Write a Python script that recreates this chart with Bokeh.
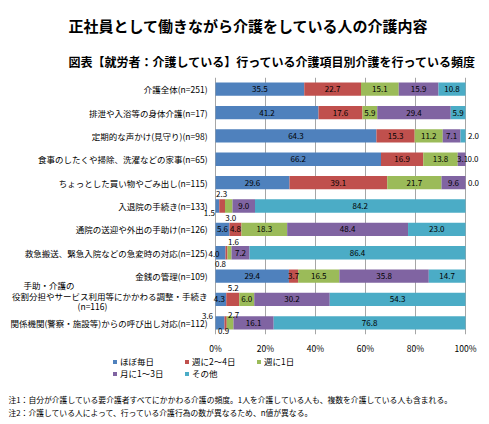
from bokeh.plotting import figure
from bokeh.layouts import column
from bokeh.models import (ColumnDataSource, Range1d, Label, LabelSet, FixedTicker,
                          Legend, LegendItem)
from bokeh.core.properties import value
from bokeh.embed import file_html
from bokeh.resources import INLINE

# ---------------- data ----------------
title_text = "正社員として働きながら介護をしている人の介護内容"
subtitle_text = "図表【就労者：介護している】行っている介護項目別介護を行っている頻度"

categories = [
    "介護全体(n=251)",
    "排泄や入浴等の身体介護(n=17)",
    "定期的な声かけ(見守り)(n=98)",
    "食事のしたくや掃除、洗濯などの家事(n=65)",
    "ちょっとした買い物やごみ出し(n=115)",
    "入退院の手続き(n=133)",
    "通院の送迎や外出の手助け(n=126)",
    "救急搬送、緊急入院などの急変時の対応(n=125)",
    "金銭の管理(n=109)",
    "手助・介護の\n役割分担やサービス利用等にかかわる調整・手続き\n(n=116)",
    "関係機関(警察・施設等)からの呼び出し対応(n=112)",
]
series_names = ["ほぼ毎日", "週に2～4日", "週に1日", "月に1～3日", "その他"]
daily = [35.5, 41.2, 64.3, 66.2, 29.6, 1.5, 5.6, 4.0, 29.4, 4.3, 3.6]
w2_4 = [22.7, 17.6, 15.3, 16.9, 39.1, 2.3, 4.8, 0.8, 3.7, 5.2, 0.9]
w1 = [15.1, 5.9, 11.2, 13.8, 21.7, 3.0, 18.3, 1.6, 16.5, 6.0, 2.7]
m1_3 = [15.9, 29.4, 7.1, 3.1, 9.6, 9.0, 48.4, 7.2, 35.8, 30.2, 16.1]
other = [10.8, 5.9, 2.0, 0.0, 0.0, 84.2, 23.0, 86.4, 14.7, 54.3, 76.8]
x_ticks = [0, 20, 40, 60, 80, 100]
x_tick_labels = ["0%", "20%", "40%", "60%", "80%", "100%"]
notes = [
    "注1：自分が介護している要介護者すべてにかかわる介護の頻度。1人を介護している人も、複数を介護している人も含まれる。",
    "注2：介護している人によって、行っている介護行為の数が異なるため、n値が異なる。",
]

# ---------------- layout / style ----------------
colors = ["#4F81BD", "#C0504D", "#9BBB59", "#8064A2", "#4BACC6"]
FONT = "Noto Sans CJK JP"
W, H = 489, 424
X0, PXPCT = 215.0, 2.5          # page x of 0 %, px per %
TOP_H = 77                      # title strip (page 0..77)
MAIN_FRAME_H = 260              # bar area (page 77..337)
AXIS_H = 19                     # tick labels (page 337..356)
BOT_H = H - TOP_H - MAIN_FRAME_H - AXIS_H

x_range = Range1d(-X0 / PXPCT, (W - X0) / PXPCT)

def px_x(page_x):
    return (page_x - X0) / PXPCT

def blank(fig):
    fig.outline_line_color = None
    fig.grid.visible = False
    fig.background_fill_color = "white"
    fig.border_fill_color = "white"
    return fig

n = len(categories)
series = [daily, w2_4, w1, m1_3, other]
ys = [n - 1 - i for i in range(n)]
totals = [sum(s[i] for s in series) for i in range(n)]
norm = [[s[i] / totals[i] * 100.0 for i in range(n)] for s in series]

# ---------- title strip ----------
p_top = blank(figure(width=W, height=TOP_H, output_backend="svg", toolbar_location=None,
                     x_range=x_range, y_range=Range1d(TOP_H, 0),
                     x_axis_location=None, y_axis_location=None,
                     min_border=0, min_border_left=0, min_border_right=0,
                     min_border_top=0, min_border_bottom=0))
p_top.add_layout(Label(x=px_x(68), y=25, text=title_text, text_align="left",
                       text_baseline="middle", text_font=FONT, text_font_size="15px",
                       text_font_style="bold", text_color="#000000"))
p_top.add_layout(Label(x=px_x(68), y=61, text=subtitle_text, text_align="left",
                       text_baseline="middle", text_font=FONT, text_font_size="12px",
                       text_font_style="bold", text_color="#000000"))

# ---------- main chart ----------
src = ColumnDataSource(dict(y=ys, **{name: norm[k] for k, name in enumerate(series_names)}))
p = figure(width=W, height=MAIN_FRAME_H + AXIS_H, output_backend="svg", toolbar_location=None,
           x_range=x_range, y_range=Range1d(-0.5, n - 0.5),
           y_axis_location=None,
           min_border=0, min_border_left=0, min_border_right=0,
           min_border_top=0, min_border_bottom=AXIS_H)
p.outline_line_color = None
p.background_fill_color = "white"
p.border_fill_color = "white"

p.hbar_stack(series_names, y="y", height=0.57, source=src,
             fill_color=colors, line_color=None)

p.ygrid.visible = False
p.xgrid.ticker = FixedTicker(ticks=x_ticks)
p.xgrid.grid_line_color = "#A6A6A6"
p.xgrid.grid_line_width = 1
p.xgrid.level = "underlay"
ax = p.xaxis[0]
ax.ticker = FixedTicker(ticks=x_ticks)
ax.major_label_overrides = {t: l for t, l in zip(x_ticks, x_tick_labels)}
ax.axis_line_color = None
ax.major_tick_line_color = None
ax.minor_tick_line_color = None
ax.major_tick_out = 0
ax.major_tick_in = 0
ax.major_label_standoff = 7
ax.major_label_text_font = FONT
ax.major_label_text_font_size = "8.5px"
ax.major_label_text_color = "#000000"

# data labels (offsets in px: right / down)
offsets = {
    (2, 4): (10.5, 0), (3, 3): (1, 0), (3, 4): (7.5, 0), (4, 4): (8, 0),
    (5, 0): (-8, 6.5), (5, 1): (-0.5, -12), (5, 2): (2, 11.5),
    (7, 0): (-6.5, 1), (7, 1): (-6, 11), (7, 2): (4, -10.5),
    (9, 0): (-1.5, 0), (9, 1): (0.5, -11),
    (10, 0): (-12.5, -6.5), (10, 1): (-2, 8.5), (10, 2): (3.5, -7.5),
}
lx, ly, lt, lxo, lyo = [], [], [], [], []
for i in range(n):
    cum = 0.0
    for k, s in enumerate(series):
        w = norm[k][i]
        lx.append(cum + w / 2)
        ly.append(ys[i])
        lt.append(f"{s[i]:.1f}")
        dx, dy = offsets.get((i, k), (0, 0))
        lxo.append(dx)
        lyo.append(-dy)
        cum += w
lab_src = ColumnDataSource(dict(x=lx, y=ly, t=lt, xo=lxo, yo=lyo))
p.add_layout(LabelSet(x="x", y="y", text="t", source=lab_src, x_offset="xo", y_offset="yo",
                      text_align="center", text_baseline="middle",
                      text_font=value(FONT), text_font_size="8px", text_color="#000000"))

# category labels
for i, c in enumerate(categories):
    if "\n" in c:
        l0, l1, l2 = c.split("\n")
        for txt, xx, yo, al in [(l0, 23, 14.5, "left"), (l1, 207, 3.5, "right"), (l2, 92, -6.5, "center")]:
            p.add_layout(Label(x=px_x(xx), y=ys[i], y_offset=yo, text=txt, text_align=al,
                               text_baseline="middle", text_font=FONT, text_font_size="8.5px",
                               text_color="#000000"))
    else:
        p.add_layout(Label(x=px_x(207), y=ys[i], text=c, text_align="right",
                           text_baseline="middle", text_font=FONT, text_font_size="8.5px",
                           text_color="#000000"))

# ---------- legend + notes strip ----------
bot_top = TOP_H + MAIN_FRAME_H + AXIS_H
p_bot = blank(figure(width=W, height=BOT_H, output_backend="svg", toolbar_location=None,
                     x_range=x_range, y_range=Range1d(H, bot_top),
                     x_axis_location=None, y_axis_location=None,
                     min_border=0, min_border_left=0, min_border_right=0,
                     min_border_top=0, min_border_bottom=0))
# legend proxies: same series, not drawn (visible=False), only used for legend swatches
leg_r = p_bot.hbar_stack(series_names, y="y", height=0.57, source=src,
                         fill_color=colors, line_color=None, visible=False)
legend = Legend(items=[LegendItem(label=nm, renderers=[r]) for nm, r in zip(series_names, leg_r)],
                orientation="horizontal", ncols=3,
                location=(112, H - 379),
                glyph_width=5, glyph_height=5, label_standoff=3, label_width=64,
                label_height=9, spacing=0, padding=0, margin=0,
                inactive_fill_alpha=0,
                label_text_font=FONT, label_text_font_size="8.5px", label_text_color="#000000",
                border_line_color=None, background_fill_alpha=0)
p_bot.add_layout(legend)
for note, yy in zip(notes, [398.5, 412]):
    p_bot.add_layout(Label(x=px_x(8), y=yy, text=note, text_align="left",
                           text_baseline="middle", text_font=FONT, text_font_size="7.8px",
                           text_color="#000000"))

layout = column(p_top, p, p_bot, spacing=0)
open("out.html", "w").write(file_html(layout, INLINE))
